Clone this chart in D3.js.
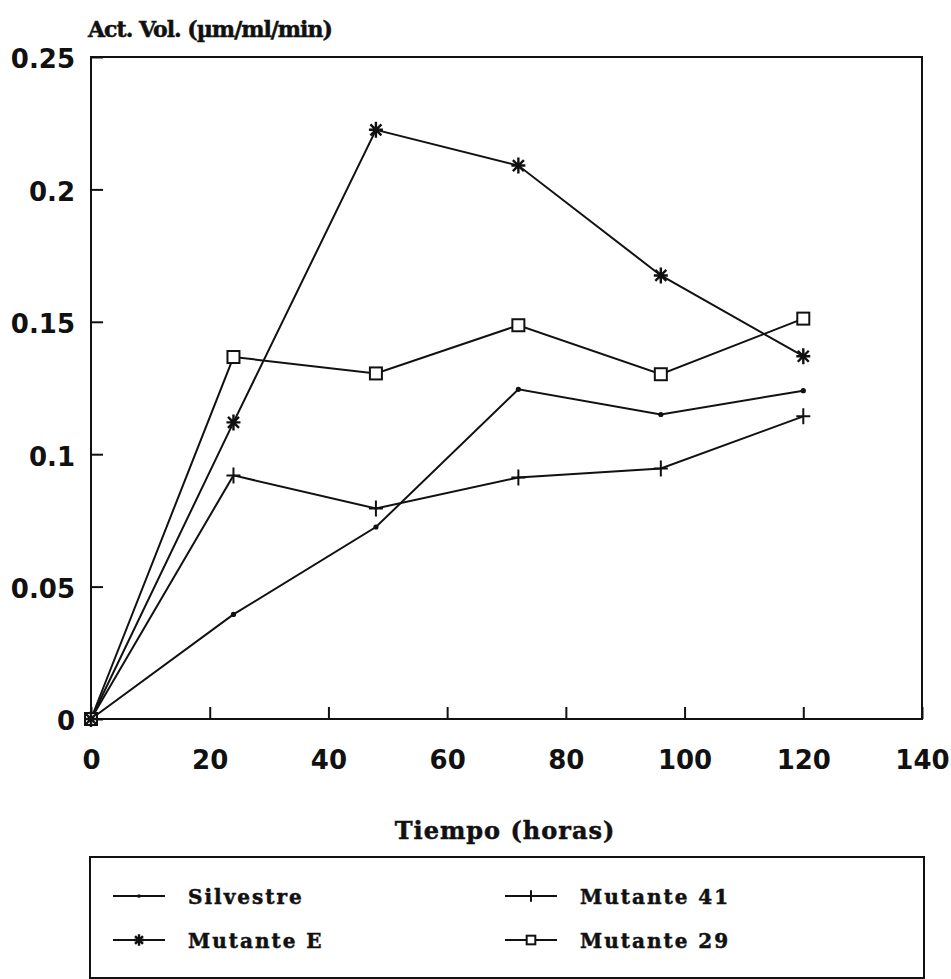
<!DOCTYPE html>
<html>
<head>
<meta charset="utf-8">
<script src="https://cdn.jsdelivr.net/npm/d3@7"></script>
<style>
  body { margin: 0; background: #fff; }
  svg { display: block; }
  .num { font-family: "DejaVu Sans", sans-serif; font-weight: bold; font-size: 26px; fill: #111; }
  .lbl { font-family: "DejaVu Serif", serif; font-weight: bold; fill: #111; stroke: #111; stroke-width: 0.5px; }
</style>
</head>
<body>
<div id="chart"></div>
<script>
// datos
var horas = [0, 24, 48, 72, 96, 120];
var silvestre = [0, 0.0395, 0.0725, 0.1245, 0.115, 0.124];
var mutanteE = [0, 0.112, 0.2225, 0.209, 0.1675, 0.137];
var mutante41 = [0, 0.092, 0.0795, 0.0912, 0.0946, 0.1143];
var mutante29 = [0, 0.1367, 0.1305, 0.1487, 0.1302, 0.1512];

var xTicks = [0, 20, 40, 60, 80, 100, 120, 140];
var yTicks = [0, 0.05, 0.1, 0.15, 0.2, 0.25];
var yTickLabels = ["0", "0.05", "0.1", "0.15", "0.2", "0.25"];

var series = [
  {nombre: "Silvestre", valores: silvestre, marca: "punto"},
  {nombre: "Mutante 41", valores: mutante41, marca: "cruz"},
  {nombre: "Mutante E", valores: mutanteE, marca: "asterisco"},
  {nombre: "Mutante 29", valores: mutante29, marca: "cuadrado"}
];
// orden de dibujo de las marcas: cuadrados debajo
var ordenMarcas = [3, 0, 1, 2];

var svg = d3.select("#chart")
  .append("svg")
  .attr("width", 951)
  .attr("height", 979);

var x = d3.scaleLinear().domain([0, 140]).range([91, 922]);
var y = d3.scaleLinear().domain([0, 0.25]).range([719, 57]);

// ejes
svg.append("g")
   .attr("transform", "translate(0,719)")
   .call(d3.axisBottom(x).tickValues(xTicks).tickSizeInner(-12).tickSizeOuter(0).tickPadding(32))
   .call(function (g) {
     g.select(".domain").remove();
     g.selectAll("line").attr("stroke", "#111").attr("stroke-width", 2);
     g.selectAll("text").attr("class", "num").attr("font-size", null).attr("font-family", null);
   });

svg.append("g")
   .attr("transform", "translate(91,0)")
   .call(d3.axisLeft(y).tickValues(yTicks).tickSizeInner(-12).tickSizeOuter(0).tickPadding(16)
           .tickFormat(function (d, i) { return yTickLabels[i]; }))
   .call(function (g) {
     g.select(".domain").remove();
     g.selectAll("line").attr("stroke", "#111").attr("stroke-width", 2);
     g.selectAll("text").attr("class", "num").attr("font-size", null).attr("font-family", null)
      .attr("dy", "0.42em");
   });

// marco
svg.append("rect")
   .attr("x", x(0))
   .attr("y", y(0.25))
   .attr("width", x(140) - x(0))
   .attr("height", y(0) - y(0.25))
   .style("fill", "none")
   .style("stroke", "#111")
   .style("stroke-width", 2);

svg.append("text")
   .attr("class", "lbl")
   .attr("x", 88)
   .attr("y", 37)
   .style("font-size", "22px")
   .style("letter-spacing", "-1px")
   .text("Act. Vol. (µm/ml/min)");

svg.append("text")
   .attr("class", "lbl")
   .attr("x", 505)
   .attr("y", 839)
   .attr("text-anchor", "middle")
   .style("font-size", "24px")
   .style("letter-spacing", "1px")
   .text("Tiempo (horas)");

function dibujaMarca(g, tipo, k) {
  if (tipo == "punto") {
    g.append("circle").attr("r", 2.6 * k).style("fill", "#111");
  } else if (tipo == "cruz") {
    g.append("path").attr("d", "M-7,0H7M0,-8V8").attr("transform", "scale(" + k + ")")
     .style("stroke", "#111").style("stroke-width", 2 / k).style("fill", "none");
  } else if (tipo == "asterisco") {
    g.append("path").attr("d", "M-7,0H7M0,-8V8M-5.5,-5.5L5.5,5.5M-5.5,5.5L5.5,-5.5").attr("transform", "scale(" + k + ")")
     .style("stroke", "#111").style("stroke-width", 2.4 / k).style("fill", "none");
  } else {
    g.append("rect").attr("x", -6).attr("y", -6).attr("width", 12).attr("height", 12).attr("transform", "scale(" + k + ")")
     .style("stroke", "#111").style("stroke-width", 2 / k).style("fill", "white");
  }
}

var linea = d3.line()
  .x(function (d) { return x(d[0]); })
  .y(function (d) { return y(d[1]); });

series.forEach(function (s) {
  var pts = horas.map(function (h, i) { return [h, s.valores[i]]; });
  svg.append("path")
     .attr("d", linea(pts))
     .style("fill", "none")
     .style("stroke", "#111")
     .style("stroke-width", 2);
});

ordenMarcas.forEach(function (j) {
  var s = series[j];
  horas.forEach(function (h, i) {
    var g = svg.append("g").attr("transform", "translate(" + x(h) + "," + y(s.valores[i]) + ")");
    dibujaMarca(g, s.marca, 1);
  });
});

// leyenda
svg.append("rect")
   .attr("x", 90)
   .attr("y", 857)
   .attr("width", 834)
   .attr("height", 121)
   .style("fill", "none")
   .style("stroke", "#111")
   .style("stroke-width", 2);

var posLeyenda = [[113, 896], [505, 896], [113, 940], [505, 940]];

var leyenda = svg.append("g")
   .selectAll("g")
   .data(series)
   .enter()
   .append("g")
   .attr("transform", function (d, i) { return "translate(" + posLeyenda[i][0] + "," + posLeyenda[i][1] + ")"; });

leyenda.append("path")
   .attr("d", "M0,0H52")
   .style("stroke", "#111")
   .style("stroke-width", 2);

leyenda.each(function (d) {
  var g = d3.select(this).append("g").attr("transform", "translate(26,0)");
  dibujaMarca(g, d.marca, 0.72);
});

leyenda.append("text")
   .attr("class", "lbl")
   .attr("x", 75)
   .attr("y", 8)
   .style("font-size", "20px")
   .style("letter-spacing", "2px")
   .text(function (d) { return d.nombre; });
</script>
</body>
</html>
